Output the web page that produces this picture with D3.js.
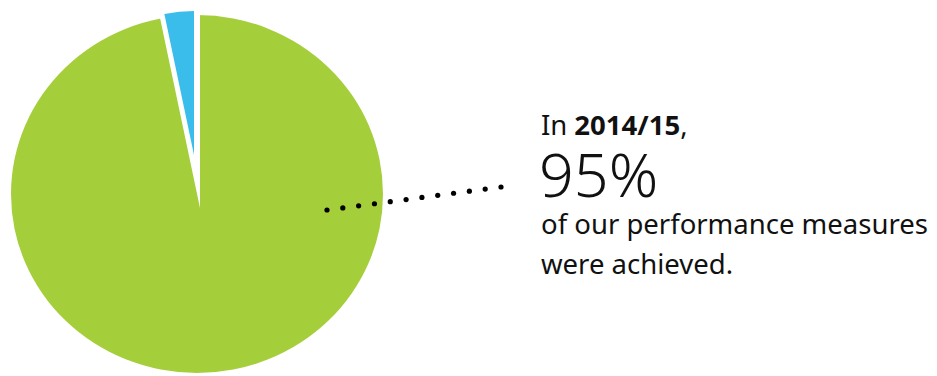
<!DOCTYPE html>
<html>
<head>
<meta charset="utf-8">
<script src="https://cdn.jsdelivr.net/npm/d3@7"></script>
<style>
  body { margin: 0; background: #fff; }
  svg { display: block; }
</style>
</head>
<body>
<div id="wrapper"></div>
<script>
// share of performance measures
var labels = ["achieved", "not achieved"];
var values = [96.7, 3.3];
var colors = ["#a5ce3b", "#3bbdeb"];

// text block
var introParts = ["In", "2014/15", ","];
var bigNumber = "95%";
var caption = ["of our performance measures", "were achieved."];

// dotted leader line, 12 dots
var dotCount = 12;

const dimension = {
    width: 937,
    height: 376,
    cx: 197,      // outline of the big slice (a slightly squashed circle)
    cy: 194,
    rx: 186,
    ry: 179,
    apexX: 200,   // where the two cut edges of the big slice meet
    apexY: 208,
    smallX: 194,  // the pulled-out slice
    smallY: 155,
    smallR: 144
}

const svg = d3.select("#wrapper")
    .append("svg")
    .attr("width", dimension.width)
    .attr("height", dimension.height);

var pie = d3.pie()
    .sort(null)
    .value(d => d);

var arcs = pie(values);

// big slice: ellipse clipped by a wide wedge
var bigWedge = d3.arc()
    .innerRadius(0)
    .outerRadius(500);

svg.append("clipPath")
    .attr("id", "bigclip")
    .append("path")
    .attr("d", bigWedge(arcs[0]))
    .attr("transform", "translate(" + dimension.apexX + "," + dimension.apexY + ")");

svg.append("ellipse")
    .attr("cx", dimension.cx)
    .attr("cy", dimension.cy)
    .attr("rx", dimension.rx)
    .attr("ry", dimension.ry)
    .attr("fill", colors[0])
    .attr("clip-path", "url(#bigclip)");

// small slice, pulled out
var smallArc = d3.arc()
    .innerRadius(0)
    .outerRadius(dimension.smallR);

svg.append("path")
    .attr("d", smallArc(arcs[1]))
    .attr("transform", "translate(" + dimension.smallX + "," + dimension.smallY + ")")
    .attr("fill", colors[1]);

// leader dots
var x = d3.scaleLinear()
    .domain([0, dotCount - 1])
    .range([327, 501]);
var y = d3.scaleLinear()
    .domain([0, dotCount - 1])
    .range([210, 187]);

svg.append("g")
    .selectAll("circle")
    .data(d3.range(dotCount))
    .enter()
    .append("circle")
    .attr("cx", d => x(d))
    .attr("cy", d => y(d))
    .attr("r", 2.6)
    .attr("fill", "#000");

// text
var textX = 541;
var font = "'Noto Sans', 'Open Sans', sans-serif";

// "In 2014/15," as three pieces laid side by side
var gaps = [7, 0];
var curX = textX;
introParts.forEach(function(part, i){
    var t = svg.append("text")
        .attr("x", curX)
        .attr("y", 135)
        .attr("font-family", font)
        .attr("font-size", 27.5)
        .attr("font-weight", i == 1 ? "bold" : "normal")
        .attr("fill", "#111")
        .text(part);
    curX += t.node().getComputedTextLength() + (gaps[i] || 0);
});

svg.append("text")
    .attr("x", textX - 2)
    .attr("y", 197)
    .attr("font-family", font)
    .attr("font-weight", 300)
    .attr("font-size", 61)
    .attr("fill", "#111")
    .text(bigNumber);

svg.selectAll("text.caption")
    .data(caption)
    .enter()
    .append("text")
    .attr("class", "caption")
    .attr("x", textX)
    .attr("y", (d, i) => 234 + i * 40)
    .attr("font-family", font)
    .attr("font-size", 27.5)
    .attr("fill", "#111")
    .text(d => d);
</script>
</body>
</html>
